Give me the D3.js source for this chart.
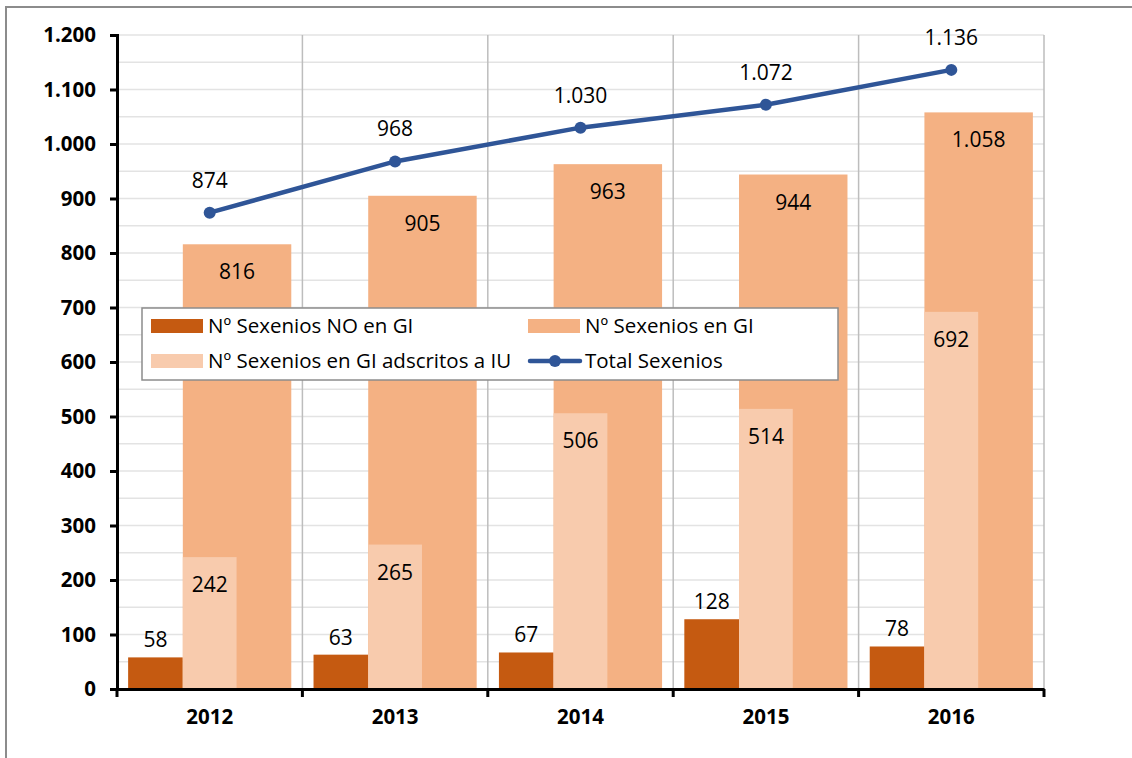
<!DOCTYPE html>
<html>
<head>
<meta charset="utf-8">
<script src="https://cdn.jsdelivr.net/npm/d3@7"></script>
<style>
  body { margin: 0; background: #fff; }
  text { font-family: "Open Sans", "Noto Sans", sans-serif; }
</style>
</head>
<body>
<script>
//chart data
var years = ["2012", "2013", "2014", "2015", "2016"];
var noEnGI = [58, 63, 67, 128, 78];
var enGI = [816, 905, 963, 944, 1058];
var adscritosIU = [242, 265, 506, 514, 692];
var total = [874, 968, 1030, 1072, 1136];
var yTicks = [0, 100, 200, 300, 400, 500, 600, 700, 800, 900, 1000, 1100, 1200];

var w = 1132, h = 758;
//plot area edges (window.top is reserved, so use own names)
var plotLeft = 117, plotRight = 1044, plotTop = 35, plotBottom = 689;

var fmt = d3.formatLocale({decimal: ",", thousands: ".", grouping: [3], currency: ["", "€"]}).format(",d");

window.onload = function(){

    var svg = d3.select("body").append("svg")
        .attr("width", w)
        .attr("height", h);

    //outer frame
    svg.append("path")
        .attr("d", "M6," + h + "V7H" + w)
        .attr("fill", "none")
        .attr("stroke", "#8c8c8c")
        .attr("stroke-width", 2);

    var x = d3.scaleBand().domain(years).range([plotLeft, plotRight]);
    var y = d3.scaleLinear().domain([0, 1200]).range([plotBottom, plotTop]);
    var bw = x.bandwidth();

    //horizontal gridlines every 50
    svg.append("g").selectAll("line")
        .data(d3.range(50, 1201, 50))
        .join("line")
        .attr("x1", plotLeft).attr("x2", plotRight)
        .attr("y1", function(d){ return y(d); })
        .attr("y2", function(d){ return y(d); })
        .attr("stroke", "#e3e3e3")
        .attr("stroke-width", 1.5);

    //vertical category separators
    svg.append("g").selectAll("line")
        .data(d3.range(1, years.length + 1))
        .join("line")
        .attr("x1", function(d){ return plotLeft + d * bw; })
        .attr("x2", function(d){ return plotLeft + d * bw; })
        .attr("y1", plotTop).attr("y2", plotBottom)
        .attr("stroke", "#bdbdbd")
        .attr("stroke-width", 1.5);

    //bars
    var g = svg.append("g");
    g.selectAll(".bar-no")
        .data(noEnGI)
        .join("rect")
        .attr("class", "bar-no")
        .attr("x", function(d, i){ return x(years[i]) + bw * 0.06; })
        .attr("width", bw * 0.295)
        .attr("y", function(d){ return y(d); })
        .attr("height", function(d){ return plotBottom - y(d); })
        .attr("fill", "#C55A11");

    g.selectAll(".bar-gi")
        .data(enGI)
        .join("rect")
        .attr("class", "bar-gi")
        .attr("x", function(d, i){ return x(years[i]) + bw * 0.355; })
        .attr("width", bw * 0.585)
        .attr("y", function(d){ return y(d); })
        .attr("height", function(d){ return plotBottom - y(d); })
        .attr("fill", "#F4B183");

    g.selectAll(".bar-iu")
        .data(adscritosIU)
        .join("rect")
        .attr("class", "bar-iu")
        .attr("x", function(d, i){ return x(years[i]) + bw * 0.355; })
        .attr("width", bw * 0.29)
        .attr("y", function(d){ return y(d); })
        .attr("height", function(d){ return plotBottom - y(d); })
        .attr("fill", "#F8CBAD");

    //bar labels
    var lab = svg.append("g")
        .attr("font-size", 21)
        .attr("fill", "#000")
        .attr("text-anchor", "middle");

    lab.selectAll(".lab-no")
        .data(noEnGI)
        .join("text")
        .attr("class", "lab-no")
        .attr("x", function(d, i){ return x(years[i]) + bw * 0.2075; })
        .attr("y", function(d){ return y(d) - 10; })
        .text(function(d){ return fmt(d); });

    lab.selectAll(".lab-gi")
        .data(enGI)
        .join("text")
        .attr("class", "lab-gi")
        .attr("x", function(d, i){ return x(years[i]) + bw * 0.6475; })
        .attr("y", function(d){ return y(d) + 35; })
        .text(function(d){ return fmt(d); });

    lab.selectAll(".lab-iu")
        .data(adscritosIU)
        .join("text")
        .attr("class", "lab-iu")
        .attr("x", function(d, i){ return x(years[i]) + bw * 0.5; })
        .attr("y", function(d){ return y(d) + 35; })
        .text(function(d){ return fmt(d); });

    //total line
    var cx = function(d, i){ return x(years[i]) + bw * 0.5; };
    var line = d3.line()
        .x(cx)
        .y(function(d){ return y(d); });

    svg.append("path")
        .datum(total)
        .attr("d", line)
        .attr("fill", "none")
        .attr("stroke", "#2F5597")
        .attr("stroke-width", 4.5);

    svg.append("g").selectAll("circle")
        .data(total)
        .join("circle")
        .attr("cx", cx)
        .attr("cy", function(d){ return y(d); })
        .attr("r", 6)
        .attr("fill", "#2F5597");

    lab.selectAll(".lab-tot")
        .data(total)
        .join("text")
        .attr("class", "lab-tot")
        .attr("x", cx)
        .attr("y", function(d){ return y(d) - 25; })
        .text(function(d){ return fmt(d); });

    //y axis
    var yAxis = svg.append("g")
        .attr("transform", "translate(" + plotLeft + ",0)")
        .call(d3.axisLeft(y).tickValues(yTicks).tickSize(7).tickPadding(14).tickFormat(fmt));
    yAxis.select(".domain").attr("stroke", "#000").attr("stroke-width", 3);
    yAxis.selectAll(".tick line").attr("stroke", "#000").attr("stroke-width", 3);
    yAxis.selectAll("text")
        .attr("font-family", "'Open Sans', sans-serif")
        .attr("font-size", 20.5)
        .attr("font-weight", "bold")
        .attr("fill", "#000");

    //x axis
    var xAxis = svg.append("g")
        .attr("transform", "translate(0," + plotBottom + ")")
        .call(d3.axisBottom(x).tickSize(0).tickPadding(20));
    xAxis.select(".domain").attr("stroke", "#000").attr("stroke-width", 3);
    xAxis.selectAll("text")
        .attr("font-family", "'Open Sans', sans-serif")
        .attr("font-size", 20.5)
        .attr("font-weight", "bold")
        .attr("fill", "#000");
    xAxis.append("g").selectAll("line")
        .data(d3.range(years.length + 1))
        .join("line")
        .attr("x1", function(d){ return plotLeft + d * bw; })
        .attr("x2", function(d){ return plotLeft + d * bw; })
        .attr("y1", 0).attr("y2", 8)
        .attr("stroke", "#000")
        .attr("stroke-width", 3);

    //legend
    var leg = svg.append("g").attr("transform", "translate(142,308)");
    leg.append("rect")
        .attr("width", 696).attr("height", 72)
        .attr("fill", "#fff")
        .attr("stroke", "#8c8c8c")
        .attr("stroke-width", 1.5);

    var items = [
        {name: "Nº Sexenios NO en GI", color: "#C55A11", col: 0, row: 0},
        {name: "Nº Sexenios en GI", color: "#F4B183", col: 1, row: 0},
        {name: "Nº Sexenios en GI adscritos a IU", color: "#F8CBAD", col: 0, row: 1},
        {name: "Total Sexenios", color: "#2F5597", col: 1, row: 1, line: true}
    ];
    var it = leg.selectAll(".item")
        .data(items)
        .join("g")
        .attr("transform", function(d){ return "translate(" + (9 + d.col * 377) + "," + (18 + d.row * 35) + ")"; });

    it.filter(function(d){ return !d.line; })
        .append("rect")
        .attr("x", 0).attr("y", -7)
        .attr("width", 52).attr("height", 14)
        .attr("fill", function(d){ return d.color; });

    var ln = it.filter(function(d){ return d.line; });
    ln.append("line")
        .attr("x1", 2).attr("x2", 52)
        .attr("stroke", "#2F5597").attr("stroke-width", 4.5)
        .attr("stroke-linecap", "round");
    ln.append("circle")
        .attr("cx", 27).attr("r", 6)
        .attr("fill", "#2F5597");

    it.append("text")
        .attr("x", 57)
        .attr("dy", "0.35em")
        .attr("font-size", 20.5)
        .attr("fill", "#000")
        .text(function(d){ return d.name; });
};
</script>
</body>
</html>
